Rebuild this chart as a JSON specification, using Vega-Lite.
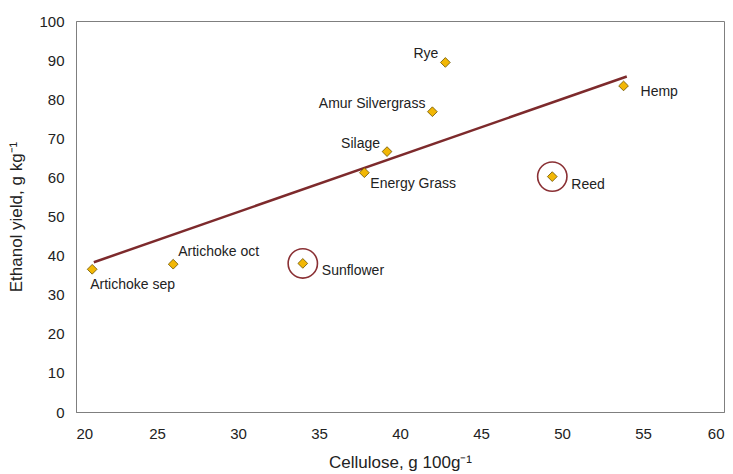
{
  "$schema": "https://vega.github.io/schema/vega-lite/v6.json",
  "width": 648,
  "height": 391,
  "autosize": "none",
  "padding": {"left": 76, "top": 21, "right": 9, "bottom": 62},
  "background": "white",
  "config": {
    "font": "Liberation Sans",
    "view": {"stroke": "#7f7f7f", "strokeWidth": 1},
    "axis": {
      "grid": false,
      "ticks": false,
      "domainColor": "#7f7f7f",
      "labelFont": "Liberation Sans",
      "labelFontSize": 15,
      "labelColor": "#222222",
      "titleFont": "Liberation Sans",
      "titleFontSize": 17,
      "titleFontWeight": "normal",
      "titleColor": "#222222"
    }
  },
  "datasets": {
    "crops": [
      {"name": "Artichoke sep", "cellulose": 21.0, "ethanol": 36.5},
      {"name": "Artichoke oct", "cellulose": 26.0, "ethanol": 37.8},
      {"name": "Sunflower", "cellulose": 34.0, "ethanol": 38.0},
      {"name": "Energy Grass", "cellulose": 37.8, "ethanol": 61.2},
      {"name": "Silage", "cellulose": 39.2, "ethanol": 66.6},
      {"name": "Amur Silvergrass", "cellulose": 42.0, "ethanol": 76.8},
      {"name": "Rye", "cellulose": 42.8, "ethanol": 89.4},
      {"name": "Reed", "cellulose": 49.4, "ethanol": 60.2},
      {"name": "Hemp", "cellulose": 53.8, "ethanol": 83.4}
    ],
    "trend": [
      {"cellulose": 21.1, "ethanol": 38.3},
      {"cellulose": 54.0, "ethanol": 85.8}
    ]
  },
  "encoding": {
    "x": {
      "field": "cellulose",
      "type": "quantitative",
      "scale": {"domain": [20, 60], "nice": false, "zero": false},
      "axis": {"values": [20, 25, 30, 35, 40, 45, 50, 55, 60], "labelPadding": 14, "title": "Cellulose, g 100g⁻¹", "titlePadding": 13}
    },
    "y": {
      "field": "ethanol",
      "type": "quantitative",
      "scale": {"domain": [0, 100], "nice": false},
      "axis": {"values": [0, 10, 20, 30, 40, 50, 60, 70, 80, 90, 100], "labelPadding": 12, "title": "Ethanol yield, g kg⁻¹", "titlePadding": 13}
    }
  },
  "layer": [
    {
      "data": {"name": "trend"},
      "mark": {"type": "line", "color": "#7d2a2c", "strokeWidth": 2.5},
      "encoding": {}
    },
    {
      "data": {"name": "crops"},
      "transform": [{"filter": {"field": "name", "oneOf": ["Sunflower", "Reed"]}}],
      "mark": {"type": "point", "shape": "circle", "size": 860, "filled": false, "stroke": "#8a3034", "strokeWidth": 1.6, "opacity": 1}
    },
    {
      "data": {"name": "crops"},
      "mark": {"type": "point", "shape": "diamond", "size": 95, "filled": true, "fill": "#f2b705", "stroke": "#6b5200", "strokeWidth": 0.8, "opacity": 1}
    },
    {
      "data": {"name": "crops"},
      "transform": [{"filter": {"field": "name", "oneOf": ["Rye", "Amur Silvergrass", "Silage"]}}],
      "mark": {"type": "text", "align": "right", "baseline": "middle", "dx": -7, "dy": -8, "fontSize": 14, "color": "#222222"},
      "encoding": {"text": {"field": "name"}}
    },
    {
      "data": {"name": "crops"},
      "transform": [{"filter": {"field": "name", "oneOf": ["Energy Grass"]}}],
      "mark": {"type": "text", "align": "left", "baseline": "middle", "dx": 6, "dy": 11, "fontSize": 14, "color": "#222222"},
      "encoding": {"text": {"field": "name"}}
    },
    {
      "data": {"name": "crops"},
      "transform": [{"filter": {"field": "name", "oneOf": ["Sunflower", "Reed"]}}],
      "mark": {"type": "text", "align": "left", "baseline": "middle", "dx": 19, "dy": 8, "fontSize": 14, "color": "#222222"},
      "encoding": {"text": {"field": "name"}}
    },
    {
      "data": {"name": "crops"},
      "transform": [{"filter": {"field": "name", "oneOf": ["Hemp"]}}],
      "mark": {"type": "text", "align": "left", "baseline": "middle", "dx": 17, "dy": 6, "fontSize": 14, "color": "#222222"},
      "encoding": {"text": {"field": "name"}}
    },
    {
      "data": {"name": "crops"},
      "transform": [{"filter": {"field": "name", "oneOf": ["Artichoke oct"]}}],
      "mark": {"type": "text", "align": "left", "baseline": "middle", "dx": 5, "dy": -12, "fontSize": 14, "color": "#222222"},
      "encoding": {"text": {"field": "name"}}
    },
    {
      "data": {"name": "crops"},
      "transform": [{"filter": {"field": "name", "oneOf": ["Artichoke sep"]}}],
      "mark": {"type": "text", "align": "left", "baseline": "middle", "dx": -2, "dy": 16, "fontSize": 14, "color": "#222222"},
      "encoding": {"text": {"field": "name"}}
    }
  ]
}
